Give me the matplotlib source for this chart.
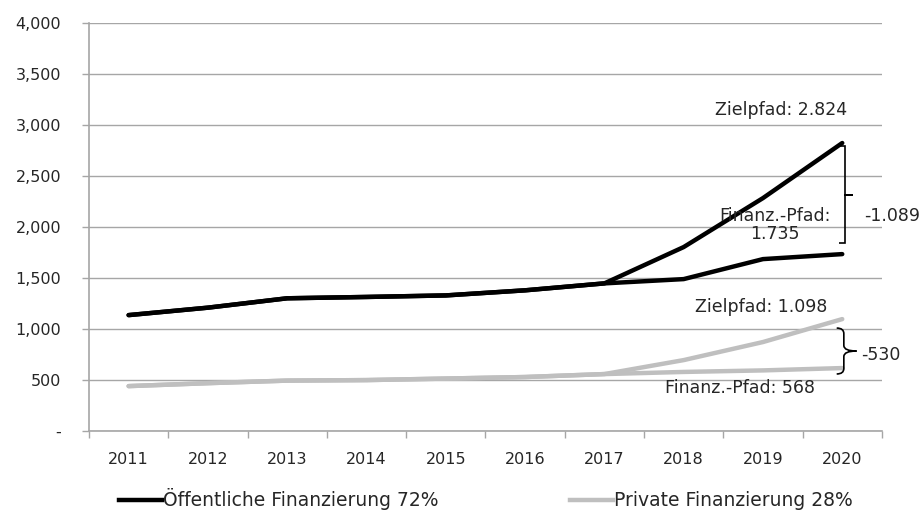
import matplotlib
matplotlib.use("Agg")
import matplotlib.pyplot as plt
import numpy as np
from matplotlib.path import Path
from matplotlib.patches import PathPatch
from matplotlib.ticker import FuncFormatter

plt.rcParams['font.family'] = ['DejaVu Sans']
plt.rcParams['font.size'] = 11.5

years = ["2011", "2012", "2013", "2014", "2015", "2016", "2017", "2018", "2019", "2020"]

# öffentliche Finanzierung
oeff_ziel = [1137, 1210, 1302, 1315, 1330, 1380, 1448, 1804, 2284, 2824]
oeff_finanz = [1137, 1210, 1302, 1315, 1330, 1380, 1448, 1490, 1686, 1735]
# private Finanzierung
priv_ziel = [441, 470, 495, 500, 515, 530, 559, 696, 873, 1098]
priv_finanz = [441, 470, 495, 500, 515, 530, 559, 580, 595, 618]

yticks = [0, 500, 1000, 1500, 2000, 2500, 3000, 3500, 4000]

txt = "#262626"
grid = "#a6a6a6"
black = "#000000"
grey = "#bfbfbf"
fs = 12.5

fig = plt.figure(figsize=(9.22, 5.12), dpi=100)
ax = fig.add_axes([0.0965, 0.158, 0.86, 0.797])

x = np.arange(len(years))
ax.plot(x, priv_ziel, color=grey, lw=3.2, solid_capstyle="round", zorder=3)
ax.plot(x, priv_finanz, color=grey, lw=3.2, solid_capstyle="round", zorder=3)
ax.plot(x, oeff_ziel, color=black, lw=3.2, solid_capstyle="round", zorder=4)
ax.plot(x, oeff_finanz, color=black, lw=3.2, solid_capstyle="round", zorder=4)

ax.set_xlim(-0.5, len(years) - 0.5)
ax.set_ylim(0, 4000)
ax.set_yticks(yticks)
ax.yaxis.set_major_formatter(FuncFormatter(lambda v, p: "-" if v == 0 else "{:,.0f}".format(v)))
ax.grid(axis="y", color=grid, lw=1.0)
ax.set_axisbelow(True)

ax.set_xticks(x)
ax.set_xticklabels(years)
ax.set_xticks(np.arange(-0.5, len(years)), minor=True)
ax.tick_params(axis="x", which="major", length=0, pad=15, colors=txt)
ax.tick_params(axis="x", which="minor", length=5, color=grid, width=1)
ax.tick_params(axis="y", length=5, color=grid, width=1, pad=15, labelcolor=txt)

for s in ["top", "right"]:
    ax.spines[s].set_visible(False)
for s in ["left", "bottom"]:
    ax.spines[s].set_color(grid)
    ax.spines[s].set_linewidth(1.2)

# labels
ax.text(9.06, 3147, "Zielpfad: 2.824", ha="right", va="center", color=txt, fontsize=fs)
ax.text(8.15, 2020, "Finanz.-Pfad:\n1.735", ha="center", va="center", color=txt,
        linespacing=1.0, zorder=5, fontsize=fs)
ax.text(9.27, 2108, "-1.089", ha="left", va="center", color=txt, fontsize=fs)
ax.text(8.81, 1216, "Zielpfad: 1.098", ha="right", va="center", color=txt, fontsize=fs)
ax.text(8.66, 422, "Finanz.-Pfad: 568", ha="right", va="center", color=txt, fontsize=fs)
ax.text(9.24, 745, "-530", ha="left", va="center", color=txt, fontsize=fs)


def bracket(xb, top, bot, tip, hook, curl):
    mid = (top + bot) / 2
    if curl:
        c = (top - bot) * 0.12
        verts = [(xb - hook, top), (xb, top), (xb, top - c),
                 (xb, mid + c), (xb, mid), (xb + tip, mid),
                 (xb, mid), (xb, mid - c),
                 (xb, bot + c), (xb, bot), (xb - hook, bot)]
        codes = [Path.MOVETO, Path.CURVE3, Path.CURVE3,
                 Path.LINETO, Path.CURVE3, Path.CURVE3,
                 Path.CURVE3, Path.CURVE3,
                 Path.LINETO, Path.CURVE3, Path.CURVE3]
    else:
        verts = [(xb - hook, top), (xb, top), (xb, mid), (xb + tip, mid),
                 (xb, mid), (xb, bot), (xb - hook, bot)]
        codes = [Path.MOVETO] + [Path.LINETO] * 6
    ax.add_patch(PathPatch(Path(verts, codes), fill=False, color=black, lw=1.2, zorder=6))


bracket(9.04, 2790, 1840, 0.1, 0.08, False)
bracket(9.02, 1010, 560, 0.16, 0.09, True)

handles = [plt.Line2D([], [], color=black, lw=3.2),
           plt.Line2D([], [], color=grey, lw=3.2)]
leg = fig.legend(handles, ["Öffentliche Finanzierung 72%", "Private Finanzierung 28%"],
                 loc="center", bbox_to_anchor=(0.527, 0.025), ncol=2, frameon=False,
                 handlelength=2.3, handletextpad=0.05, columnspacing=7.0, fontsize=13.5)
for t in leg.get_texts():
    t.set_color(txt)

fig.savefig("out.png", dpi=100)
